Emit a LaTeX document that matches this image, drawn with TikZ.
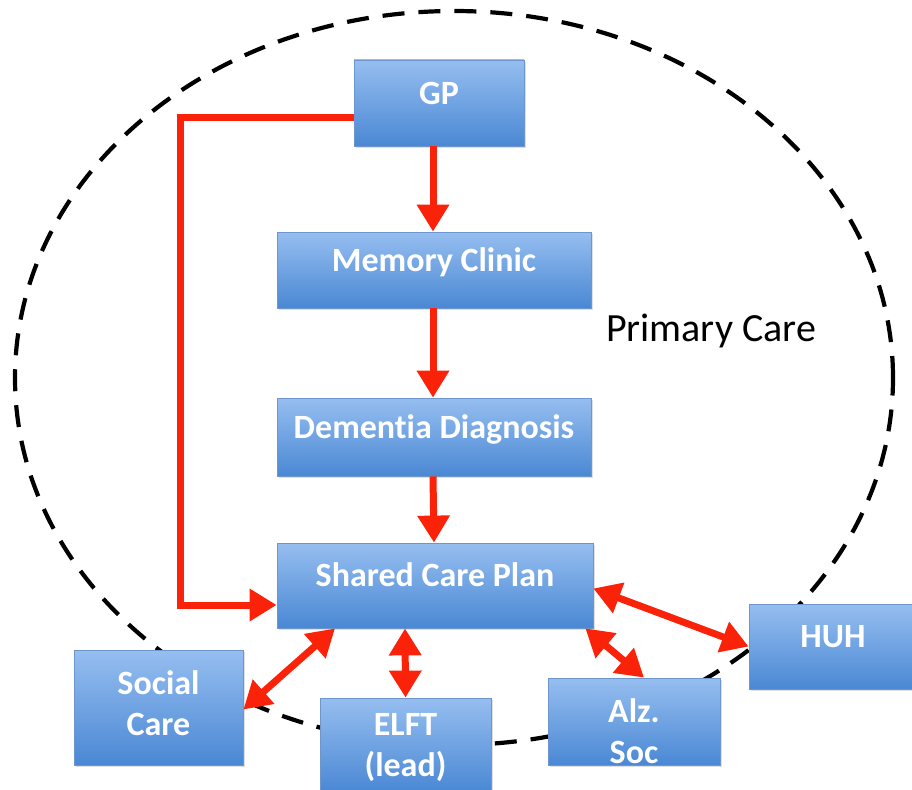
\documentclass[tikz,border=0pt]{standalone}
\usepackage{fontspec}
\setmainfont{Carlito}[Ligatures={NoCommon}]
\usetikzlibrary{arrows.meta,shadows}
\definecolor{flowred}{RGB}{250,35,10}
\definecolor{boxtop}{RGB}{150,190,240}
\definecolor{boxbot}{RGB}{74,136,212}
\definecolor{boxedge}{RGB}{110,150,205}
\tikzset{
  box/.style={draw=boxedge, line width=0.8pt, top color=boxtop, bottom color=boxbot,
    inner sep=0pt, drop shadow={shadow xshift=1.5pt, shadow yshift=-2pt, opacity=0.25}},
  lbl/.style={text=white, font=\bfseries\fontsize{34}{41}\selectfont, align=center, inner sep=0pt},
  flow/.style={draw=flowred, line width=7pt, -{Triangle[length=27pt,width=31pt]}, color=flowred},
  both/.style={flow, {Triangle[length=27pt,width=31pt]}-{Triangle[length=27pt,width=31pt]}},
  region/.style={draw=black, line width=4.2pt, dash pattern=on 22pt off 14pt}
}
\begin{document}
\begin{tikzpicture}[x=1pt, y=-1pt]
\useasboundingbox (0,0) rectangle (912,789);

% primary care boundary
\draw[region] (454,378) ellipse [x radius=439pt, y radius=367pt];
\node[font=\fontsize{40}{48}\selectfont, anchor=center] (pc) at (711,331) {Primary Care};

% boxes
\node[box, minimum width=170pt, minimum height=86pt] (gp) at (439,103) {};
\node[box, minimum width=314pt, minimum height=76pt] (mem) at (434,270) {};
\node[box, minimum width=314pt, minimum height=78pt] (dem) at (434,437) {};
\node[box, minimum width=316pt, minimum height=85pt] (scp) at (435,585.5) {};
\node[box, minimum width=169pt, minimum height=115pt] (soc) at (158.5,707.5) {};
\node[box, minimum width=171pt, minimum height=94pt] (elft) at (405.5,745) {};
\node[box, minimum width=172pt, minimum height=87pt] (alz) at (634,721.5) {};
\node[box, minimum width=168pt, minimum height=85pt] (huh) at (833,646.5) {};

% box texts
\node[lbl] (gpt) at (439,93) {GP};
\node[lbl] (memt) at (434,262) {Memory Clinic};
\node[lbl] (demt) at (434,429) {Dementia Diagnosis};
\node[lbl] (scpt) at (435,575) {Shared Care Plan};
\node[lbl] (soct) at (158.5,703) {Social\\Care};
\node[lbl] (elftt) at (405.5,748) {ELFT\\(lead)};
\node[lbl] (alzt) at (634,731) {Alz.\\Soc};
\node[lbl] (huht) at (833,637) {HUH};

% referral path
\draw[flow] ([xshift=-1pt]gp.south -| mem.north) -- ([xshift=-1pt]mem.north);
\draw[flow] ([xshift=-1pt]mem.south) -- ([xshift=-1pt]dem.north);
\draw[flow] ([xshift=-1pt]dem.south) -- ([xshift=-1pt]scp.north);
\coordinate (c1) at (180,118);
\coordinate (c2) at (180,605);
\draw[flow, line join=miter] ([yshift=-15pt]gp.west) -- (c1) -- (c2) -- (scp.west |- c2);

% links to partners
\draw[both] ([xshift=-100pt]scp.south) -- ([yshift=-2pt]soc.east);
\draw[both] ([xshift=-30pt]scp.south) -- (elft.north);
\draw[both] ([xshift=-8pt]scp.south east) -- ([xshift=10pt]alz.north);
\draw[both] ([yshift=-3pt]scp.east) -- (huh.west);
\end{tikzpicture}
\end{document}
